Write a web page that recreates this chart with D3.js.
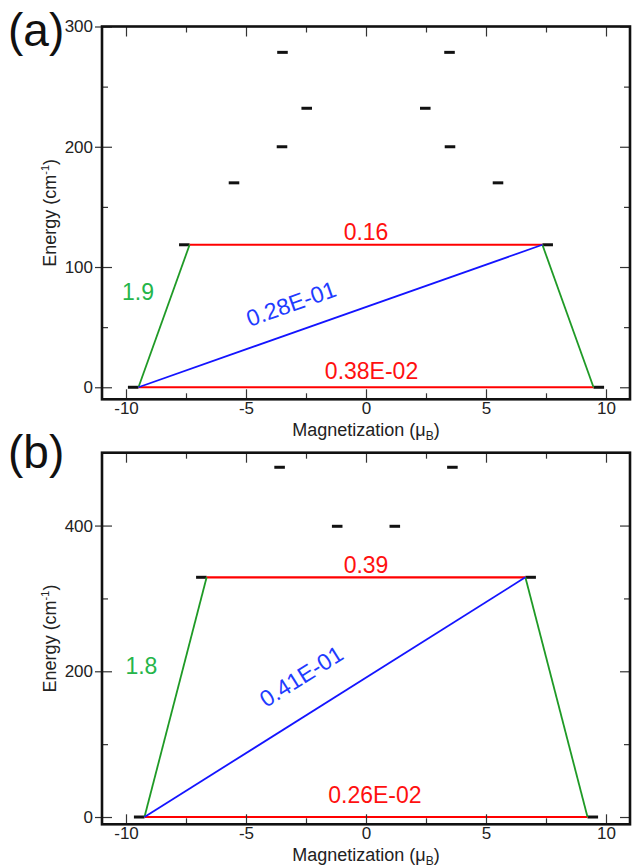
<!DOCTYPE html>
<html>
<head>
<meta charset="utf-8">
<script src="https://cdn.jsdelivr.net/npm/d3@7"></script>
<style>
  body { margin: 0; background: #fff; }
  text { font-family: "Liberation Sans", Arial, Helvetica, sans-serif; }
</style>
</head>
<body>
<div id="chart"></div>
<script>

var svgWidth = 633;
var svgHeight = 868;

// magnetization axis (shared)
var xMajor = [-10, -5, 0, 5, 10];
var xMinor = [-7.5, -2.5, 2.5, 7.5];

// panel (a): levels
var aLevelM = [-9.7, 9.7, -7.57, 7.57, -5.5, 5.5, -3.5, 3.5, -2.47, 2.47, -3.48, 3.48];
var aLevelE = [0, 0, 118.5, 118.5, 170, 170, 200, 200, 232, 232, 278.5, 278.5];
// transitions: [from level, to level, kind]
var aTrans = [[0, 1, "red"], [2, 3, "red"], [0, 2, "green"], [1, 3, "green"], [0, 3, "blue"]];
var aLabelText = ["0.16", "0.38E-02", "1.9", "0.28E-01"];
var aLabelM = [0, 0.23, -9.5, -3.12];
var aLabelE = [122.2, 6.7, 72.7, 69.4];
var aLabelKind = ["red", "red", "green", "blue"];
var aYMajor = [0, 100, 200, 300];
var aYMinor = [50, 150, 250];

// panel (b): levels
var bLevelM = [-9.45, 9.45, -6.86, 6.86, -1.2, 1.2, -3.6, 3.6];
var bLevelE = [0, 0, 329, 329, 399, 399, 480, 480];
var bTrans = [[0, 1, "red"], [2, 3, "red"], [0, 2, "green"], [1, 3, "green"], [0, 3, "blue"]];
var bLabelText = ["0.39", "0.26E-02", "1.8", "0.41E-01"];
var bLabelM = [0, 0.37, -9.36, -2.7];
var bLabelE = [334.4, 19.1, 196.9, 193];
var bLabelKind = ["red", "red", "green", "blue"];
var bYMajor = [0, 200, 400];
var bYMinor = [100, 300];

var lineColor = { red: "#ff0000", green: "#1f9a26", blue: "#1414ff" };
var textColor = { red: "#ff1010", green: "#25b54a", blue: "#1f3cff" };

var barHalf = 0.22;

var svg = d3.select("#chart")
  .append("svg")
  .attr("width", svgWidth)
  .attr("height", svgHeight);

var xScale = d3.scaleLinear().domain([-11, 11]).range([102, 630]);

var panels = [
  { tag: "(a)", tagY: 45.5, top: 26.5, bottom: 399.3, yDomain: [-10, 300],
    levelM: aLevelM, levelE: aLevelE, trans: aTrans,
    labelText: aLabelText, labelM: aLabelM, labelE: aLabelE, labelKind: aLabelKind,
    yMajor: aYMajor, yMinor: aYMinor },
  { tag: "(b)", tagY: 468, top: 452.7, bottom: 824.3, yDomain: [-10, 500],
    levelM: bLevelM, levelE: bLevelE, trans: bTrans,
    labelText: bLabelText, labelM: bLabelM, labelE: bLabelE, labelKind: bLabelKind,
    yMajor: bYMajor, yMinor: bYMinor }
];

panels.forEach(drawPanel);

function innerEnd(m) {
  return m < 0 ? m + barHalf : m - barHalf;
}

function drawPanel(p) {
  var yScale = d3.scaleLinear().domain(p.yDomain).range([p.bottom, p.top]);
  var g = svg.append("g");
  var x0 = xScale.range()[0], x1 = xScale.range()[1];

  // level bars
  g.selectAll("line.level")
    .data(d3.range(p.levelM.length))
    .enter()
    .append("line")
    .attr("class", "level")
    .attr("x1", i => xScale(p.levelM[i] - barHalf))
    .attr("x2", i => xScale(p.levelM[i] + barHalf))
    .attr("y1", i => yScale(p.levelE[i]))
    .attr("y2", i => yScale(p.levelE[i]))
    .attr("stroke", "#111")
    .attr("stroke-width", 3);

  // transitions
  g.selectAll("line.trans")
    .data(p.trans)
    .enter()
    .append("line")
    .attr("class", "trans")
    .attr("x1", d => xScale(innerEnd(p.levelM[d[0]])))
    .attr("y1", d => yScale(p.levelE[d[0]]))
    .attr("x2", d => xScale(innerEnd(p.levelM[d[1]])))
    .attr("y2", d => yScale(p.levelE[d[1]]))
    .attr("stroke", d => lineColor[d[2]])
    .attr("stroke-width", d => d[2] == "red" ? 2.2 : 1.8);

  // angle of the blue transition, for its label
  var bt = p.trans.find(d => d[2] == "blue");
  var angle = Math.atan2(
    yScale(p.levelE[bt[1]]) - yScale(p.levelE[bt[0]]),
    xScale(innerEnd(p.levelM[bt[1]])) - xScale(innerEnd(p.levelM[bt[0]]))
  ) * 180 / Math.PI;

  g.selectAll("text.val")
    .data(d3.range(p.labelText.length))
    .enter()
    .append("text")
    .attr("class", "val")
    .attr("transform", function(i) {
      var tx = xScale(p.labelM[i]), ty = yScale(p.labelE[i]);
      return p.labelKind[i] == "blue"
        ? `translate(${tx},${ty}) rotate(${angle})`
        : `translate(${tx},${ty})`;
    })
    .attr("text-anchor", "middle")
    .attr("dominant-baseline", i => p.labelKind[i] == "blue" ? "central" : "auto")
    .attr("font-size", 23)
    .attr("fill", i => textColor[p.labelKind[i]])
    .text(i => p.labelText[i]);

  // axes
  var plain = d => String(d);
  var bottomMajor = d3.axisBottom(xScale).tickValues(xMajor)
    .tickSizeInner(-10).tickSizeOuter(0).tickPadding(3).tickFormat(plain);
  var bottomMinor = d3.axisBottom(xScale).tickValues(xMinor)
    .tickSizeInner(-6).tickSizeOuter(0).tickFormat("");
  var topMajor = d3.axisTop(xScale).tickValues(xMajor)
    .tickSizeInner(-10).tickSizeOuter(0).tickFormat("");
  var topMinor = d3.axisTop(xScale).tickValues(xMinor)
    .tickSizeInner(-6).tickSizeOuter(0).tickFormat("");
  var leftMajor = d3.axisLeft(yScale).tickValues(p.yMajor)
    .tickSizeInner(-10).tickSizeOuter(0).tickPadding(9).tickFormat(plain);
  var leftMinor = d3.axisLeft(yScale).tickValues(p.yMinor)
    .tickSizeInner(-6).tickSizeOuter(0).tickFormat("");
  var rightMajor = d3.axisRight(yScale).tickValues(p.yMajor)
    .tickSizeInner(-10).tickSizeOuter(0).tickFormat("");
  var rightMinor = d3.axisRight(yScale).tickValues(p.yMinor)
    .tickSizeInner(-6).tickSizeOuter(0).tickFormat("");

  var axes = [
    [bottomMajor, `translate(0,${p.bottom})`],
    [bottomMinor, `translate(0,${p.bottom})`],
    [topMajor, `translate(0,${p.top})`],
    [topMinor, `translate(0,${p.top})`],
    [leftMajor, `translate(${x0},0)`],
    [leftMinor, `translate(${x0},0)`],
    [rightMajor, `translate(${x1},0)`],
    [rightMinor, `translate(${x1},0)`]
  ];
  var axisGroups = axes.map(function(a) {
    var ag = g.append("g").attr("transform", a[1]).call(a[0]);
    ag.select(".domain").remove();
    ag.selectAll("line").attr("stroke", "#333").attr("stroke-width", 1.2);
    ag.selectAll("text").attr("font-size", 17).attr("fill", "#222")
      .style("font-family", "'Liberation Sans', Arial, sans-serif");
    return ag;
  });
  // left major ticks poke out of the frame a little
  axisGroups[4].selectAll("line").attr("x1", -7);

  // frame
  g.append("rect")
    .attr("x", x0)
    .attr("y", p.top)
    .attr("width", x1 - x0)
    .attr("height", p.bottom - p.top)
    .attr("fill", "none")
    .attr("stroke", "#111")
    .attr("stroke-width", 2.6);

  // axis titles
  var xTitle = g.append("text")
    .attr("x", (x0 + x1) / 2)
    .attr("y", p.bottom + 36.5)
    .attr("text-anchor", "middle")
    .attr("font-size", 18)
    .attr("fill", "#222");
  xTitle.append("tspan").text("Magnetization (\u03bc");
  xTitle.append("tspan").attr("font-size", 12).attr("dy", 4).text("B");
  xTitle.append("tspan").attr("dy", -4).text(")");

  var yTitle = g.append("text")
    .attr("transform", `translate(56,${(p.top + p.bottom) / 2}) rotate(-90)`)
    .attr("text-anchor", "middle")
    .attr("font-size", 18)
    .attr("fill", "#222");
  yTitle.append("tspan").text("Energy (cm");
  yTitle.append("tspan").attr("font-size", 11).attr("dy", -7).text("-1");
  yTitle.append("tspan").attr("dy", 7).text(")");

  // panel tag
  g.append("text")
    .attr("x", 8)
    .attr("y", p.tagY)
    .attr("font-size", 46)
    .attr("fill", "#111")
    .text(p.tag);
}
</script>
</body>
</html>
